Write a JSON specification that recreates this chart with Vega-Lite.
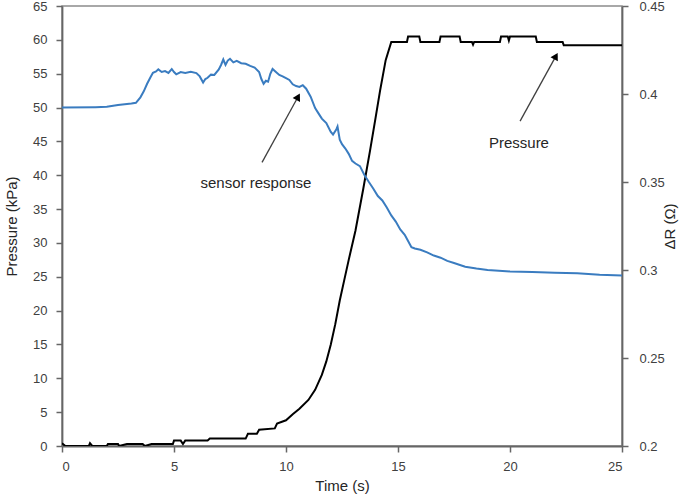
{
  "$schema": "https://vega.github.io/schema/vega-lite/v6.json",
  "width": 560,
  "height": 440,
  "autosize": {"type": "none"},
  "padding": {"left": 62, "top": 6, "right": 63, "bottom": 50},
  "background": "white",
  "config": {
    "font": "Liberation Sans",
    "view": {"stroke": "#8c8c8c", "strokeWidth": 1.5},
    "axis": {
      "grid": false,
      "domainColor": "#666666",
      "domainWidth": 1.8,
      "tickColor": "#666666",
      "tickWidth": 1.5,
      "tickSize": 6,
      "labelFont": "Liberation Sans",
      "labelFontSize": 13,
      "labelColor": "#404040",
      "titleFont": "Liberation Sans",
      "titleFontSize": 15,
      "titleFontWeight": "normal",
      "titleColor": "#262626"
    }
  },
  "datasets": {
    "pressure": [
      {"t": 0, "p": 0.4}, {"t": 0.15, "p": 0}, {"t": 1.2, "p": 0}, {"t": 1.25, "p": 0.4}, {"t": 1.35, "p": 0},
      {"t": 2.0, "p": 0}, {"t": 2.05, "p": 0.3}, {"t": 2.5, "p": 0.3}, {"t": 2.55, "p": 0}, {"t": 2.9, "p": 0.3},
      {"t": 3.6, "p": 0.3}, {"t": 3.7, "p": 0}, {"t": 4.0, "p": 0.3}, {"t": 4.95, "p": 0.3}, {"t": 5.0, "p": 0.8},
      {"t": 5.3, "p": 0.8}, {"t": 5.4, "p": 0.3}, {"t": 5.5, "p": 0.8}, {"t": 6.5, "p": 0.8}, {"t": 6.6, "p": 1.1},
      {"t": 8.2, "p": 1.1}, {"t": 8.3, "p": 1.8}, {"t": 8.7, "p": 1.8}, {"t": 8.8, "p": 2.4}, {"t": 9.5, "p": 2.6},
      {"t": 9.6, "p": 3.3}, {"t": 10.0, "p": 3.8}, {"t": 10.3, "p": 4.7}, {"t": 10.6, "p": 5.5}, {"t": 11.0, "p": 6.8},
      {"t": 11.3, "p": 8.3}, {"t": 11.6, "p": 10.5}, {"t": 11.8, "p": 12.5}, {"t": 12.0, "p": 15}, {"t": 12.2, "p": 18}, {"t": 12.4, "p": 21.5}, {"t": 12.6, "p": 24.5}, {"t": 12.8, "p": 27.5},
      {"t": 13.1, "p": 31.8}, {"t": 13.45, "p": 38}, {"t": 13.75, "p": 43.6}, {"t": 14.0, "p": 48.5}, {"t": 14.2, "p": 52.5},
      {"t": 14.45, "p": 57}, {"t": 14.7, "p": 59.7}, {"t": 15.4, "p": 59.7}, {"t": 15.45, "p": 60.5}, {"t": 15.95, "p": 60.5},
      {"t": 16.0, "p": 59.7}, {"t": 16.85, "p": 59.7}, {"t": 16.9, "p": 60.5}, {"t": 17.75, "p": 60.5}, {"t": 17.8, "p": 59.7},
      {"t": 18.3, "p": 59.7}, {"t": 18.35, "p": 59.3}, {"t": 18.4, "p": 59.7}, {"t": 19.55, "p": 59.7}, {"t": 19.6, "p": 60.5},
      {"t": 19.9, "p": 60.5}, {"t": 19.95, "p": 59.9}, {"t": 20.0, "p": 60.5}, {"t": 21.15, "p": 60.5}, {"t": 21.2, "p": 59.7},
      {"t": 22.35, "p": 59.7}, {"t": 22.4, "p": 59.2}, {"t": 25, "p": 59.2}
    ],
    "sensor": [
      {"t": 0, "r": 0.3923}, {"t": 1.5, "r": 0.3925}, {"t": 2.0, "r": 0.3927}, {"t": 2.5, "r": 0.3938}, {"t": 3.1, "r": 0.3946},
      {"t": 3.3, "r": 0.3950}, {"t": 3.5, "r": 0.3981}, {"t": 3.65, "r": 0.4015}, {"t": 3.8, "r": 0.4058}, {"t": 3.95, "r": 0.4095}, {"t": 4.06, "r": 0.4120},
      {"t": 4.2, "r": 0.4128}, {"t": 4.3, "r": 0.4140}, {"t": 4.45, "r": 0.4125}, {"t": 4.6, "r": 0.4130}, {"t": 4.75, "r": 0.4120},
      {"t": 4.9, "r": 0.4142}, {"t": 5.0, "r": 0.4125}, {"t": 5.1, "r": 0.4112}, {"t": 5.3, "r": 0.4125}, {"t": 5.5, "r": 0.4120},
      {"t": 5.75, "r": 0.4126}, {"t": 6.0, "r": 0.4119}, {"t": 6.15, "r": 0.4100}, {"t": 6.3, "r": 0.4065}, {"t": 6.4, "r": 0.4085},
      {"t": 6.5, "r": 0.4092}, {"t": 6.65, "r": 0.4110}, {"t": 6.8, "r": 0.4108}, {"t": 7.0, "r": 0.4140}, {"t": 7.1, "r": 0.4165},
      {"t": 7.2, "r": 0.4196}, {"t": 7.3, "r": 0.4165}, {"t": 7.4, "r": 0.4190}, {"t": 7.5, "r": 0.4200}, {"t": 7.65, "r": 0.4180},
      {"t": 7.8, "r": 0.4188}, {"t": 8.0, "r": 0.4175}, {"t": 8.2, "r": 0.4172}, {"t": 8.4, "r": 0.4160}, {"t": 8.6, "r": 0.4150},
      {"t": 8.8, "r": 0.4125}, {"t": 8.9, "r": 0.4085}, {"t": 9.0, "r": 0.4058}, {"t": 9.1, "r": 0.4075}, {"t": 9.2, "r": 0.4070},
      {"t": 9.3, "r": 0.4115}, {"t": 9.4, "r": 0.4142}, {"t": 9.55, "r": 0.4125}, {"t": 9.7, "r": 0.4108}, {"t": 9.85, "r": 0.4100},
      {"t": 10.0, "r": 0.4090}, {"t": 10.15, "r": 0.4080}, {"t": 10.3, "r": 0.4055}, {"t": 10.45, "r": 0.4045}, {"t": 10.6, "r": 0.4040},
      {"t": 10.75, "r": 0.4050}, {"t": 10.9, "r": 0.4030}, {"t": 11.1, "r": 0.3985}, {"t": 11.3, "r": 0.3920}, {"t": 11.45, "r": 0.3890},
      {"t": 11.6, "r": 0.3860}, {"t": 11.8, "r": 0.3835}, {"t": 12.0, "r": 0.3785}, {"t": 12.1, "r": 0.3770}, {"t": 12.25, "r": 0.3800},
      {"t": 12.3, "r": 0.3815}, {"t": 12.4, "r": 0.3740}, {"t": 12.5, "r": 0.3715}, {"t": 12.65, "r": 0.3690}, {"t": 12.8, "r": 0.3660},
      {"t": 12.95, "r": 0.3620}, {"t": 13.1, "r": 0.3605}, {"t": 13.3, "r": 0.3590}, {"t": 13.5, "r": 0.3540}, {"t": 13.7, "r": 0.3500},
      {"t": 13.9, "r": 0.3462}, {"t": 14.1, "r": 0.3420}, {"t": 14.3, "r": 0.3395}, {"t": 14.5, "r": 0.3355}, {"t": 14.7, "r": 0.3310},
      {"t": 14.9, "r": 0.3275}, {"t": 15.1, "r": 0.3230}, {"t": 15.3, "r": 0.3200}, {"t": 15.45, "r": 0.3165}, {"t": 15.6, "r": 0.3130},
      {"t": 15.75, "r": 0.3122}, {"t": 16.0, "r": 0.3115}, {"t": 16.3, "r": 0.3100}, {"t": 16.6, "r": 0.3082}, {"t": 16.9, "r": 0.3070},
      {"t": 17.2, "r": 0.3052}, {"t": 17.5, "r": 0.3040}, {"t": 18.0, "r": 0.3019}, {"t": 18.5, "r": 0.3008}, {"t": 19.0, "r": 0.3000},
      {"t": 20.0, "r": 0.2992}, {"t": 21.0, "r": 0.2988}, {"t": 22.0, "r": 0.2985}, {"t": 23.0, "r": 0.2981}, {"t": 24.0, "r": 0.2973},
      {"t": 25.0, "r": 0.2969}
    ],
    "arrows": [
      {"label": "sensor response", "t0": 8.93, "p0": 41.9, "t1": 10.54, "p1": 51.6, "tt": 8.66, "pt": 38.8, "ang": 28.6},
      {"label": "Pressure", "t0": 20.45, "p0": 48.0, "t1": 22.05, "p1": 57.6, "tt": 20.4, "pt": 44.7, "ang": 29}
    ]
  },
  "layer": [
    {
      "data": {"name": "pressure"},
      "mark": {"type": "line", "color": "#000000", "strokeWidth": 2, "clip": true},
      "encoding": {
        "x": {"field": "t", "type": "quantitative", "scale": {"domain": [0, 25], "nice": false, "zero": false},
          "axis": {"title": "Time (s)", "values": [0, 5, 10, 15, 20, 25], "labelPadding": 8, "titlePadding": 5}},
        "y": {"field": "p", "type": "quantitative", "scale": {"domain": [0, 65], "nice": false},
          "axis": {"title": "Pressure (kPa)", "values": [0, 5, 10, 15, 20, 25, 30, 35, 40, 45, 50, 55, 60, 65], "labelPadding": 9, "titlePadding": 13}}
      }
    },
    {
      "data": {"name": "sensor"},
      "mark": {"type": "line", "color": "#3a7cc0", "strokeWidth": 2, "clip": true},
      "encoding": {
        "x": {"field": "t", "type": "quantitative", "scale": {"domain": [0, 25], "nice": false, "zero": false},
          "axis": {"title": "Time (s)", "values": [0, 5, 10, 15, 20, 25], "labelPadding": 8, "titlePadding": 5}},
        "y": {"field": "r", "type": "quantitative", "scale": {"domain": [0.2, 0.45], "nice": false, "zero": false},
          "axis": {"orient": "right", "title": "ΔR (Ω)", "titleAngle": 270, "titleBaseline": "bottom", "format": ".2~f", "values": [0.2, 0.25, 0.3, 0.35, 0.4, 0.45], "labelPadding": 11, "titlePadding": 13}}
      }
    },
    {
      "data": {"name": "arrows"},
      "mark": {"type": "rule", "color": "#404040", "strokeWidth": 1.3},
      "encoding": {
        "x": {"field": "t0", "type": "quantitative", "scale": {"domain": [0, 25], "nice": false, "zero": false},
          "axis": {"title": "Time (s)", "values": [0, 5, 10, 15, 20, 25], "labelPadding": 8, "titlePadding": 5}},
        "x2": {"field": "t1"},
        "y": {"field": "p0", "type": "quantitative", "scale": {"domain": [0, 65], "nice": false}, "axis": null},
        "y2": {"field": "p1"}
      }
    },
    {
      "data": {"name": "arrows"},
      "mark": {"type": "point", "shape": "triangle-up", "filled": true, "color": "#000000", "size": 70, "opacity": 1},
      "encoding": {
        "x": {"field": "t1", "type": "quantitative", "scale": {"domain": [0, 25], "nice": false, "zero": false},
          "axis": {"title": "Time (s)", "values": [0, 5, 10, 15, 20, 25], "labelPadding": 8, "titlePadding": 5}},
        "y": {"field": "p1", "type": "quantitative", "scale": {"domain": [0, 65], "nice": false}, "axis": null},
        "angle": {"field": "ang", "type": "quantitative", "scale": null}
      }
    },
    {
      "data": {"name": "arrows"},
      "mark": {"type": "text", "font": "Liberation Sans", "fontSize": 15, "color": "#262626", "align": "center", "baseline": "middle"},
      "encoding": {
        "x": {"field": "tt", "type": "quantitative", "scale": {"domain": [0, 25], "nice": false, "zero": false},
          "axis": {"title": "Time (s)", "values": [0, 5, 10, 15, 20, 25], "labelPadding": 8, "titlePadding": 5}},
        "y": {"field": "pt", "type": "quantitative", "scale": {"domain": [0, 65], "nice": false}, "axis": null},
        "text": {"field": "label"}
      }
    }
  ],
  "resolve": {"scale": {"y": "independent"}}
}
